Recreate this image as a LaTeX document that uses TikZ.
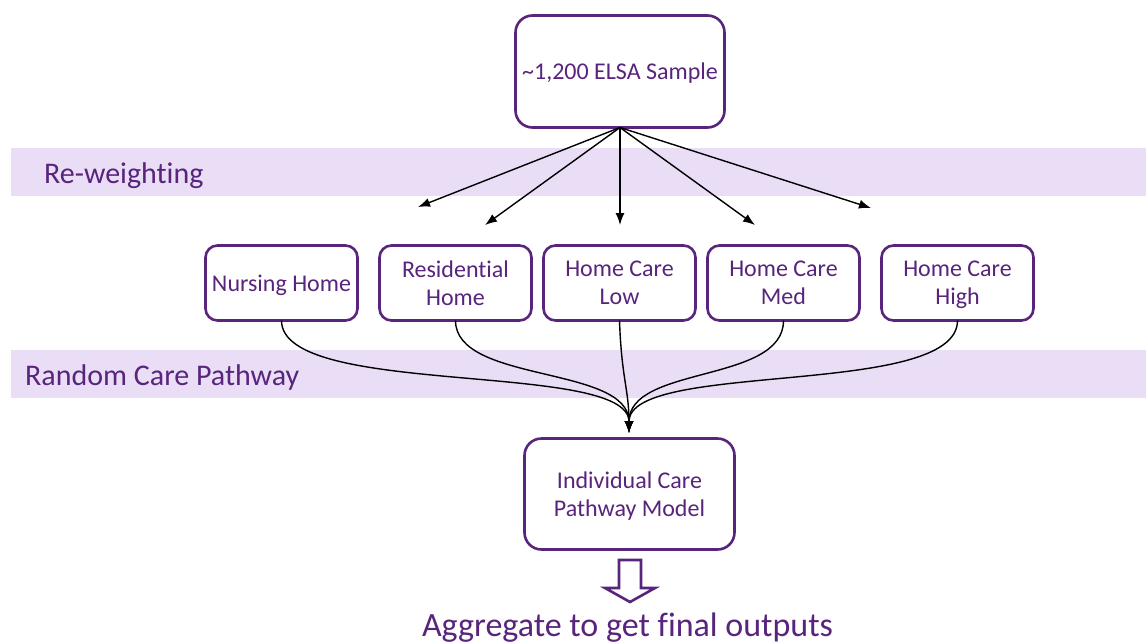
\documentclass[tikz,border=0pt]{standalone}
\usepackage{fontspec}
\setmainfont{Carlito}[Ligatures={NoCommon,NoRare}]
\usetikzlibrary{arrows.meta, positioning}

\definecolor{elsapurple}{RGB}{88,36,124}
\definecolor{bandfill}{RGB}{234,222,246}

\tikzset{
  box/.style={draw=elsapurple, line width=2.6pt, rounded corners=12pt, fill=white,
    text=elsapurple, align=center, minimum width=152pt, minimum height=75pt,
    inner sep=2pt, outer sep=0pt, text depth=0pt, font=\fontsize{24}{28}\selectfont},
  bigbox/.style={box, rounded corners=17pt, minimum width=209pt, minimum height=112pt},
  band/.style={fill=bandfill, draw=none},
  bandlabel/.style={text=elsapurple, anchor=base west, inner sep=0pt,
    font=\fontsize{30}{36}\selectfont},
  flow/.style={line width=1.4pt, -{Latex[length=12pt,width=9pt]}},
  hollow/.style={draw=elsapurple, line width=2.6pt, fill=white, line join=miter},
}

\begin{document}
\begin{tikzpicture}[x=1pt, y=-1pt]
	\useasboundingbox (0,0) rectangle (1146,643);

	% bands
	\fill[band] (11,148) rectangle (1146,196);
	\fill[band] (11,350) rectangle (1146,398);
	\node[bandlabel] (rw) at (44,183) {Re-weighting};
	\node[bandlabel] (rcp) at (25,385) {Random Care Pathway};

	\node[bigbox] (elsa) at (620,71.5) {\textasciitilde1,200 ELSA Sample};

	\node[box] (nh) at (281.5,283) {Nursing Home};
	\node[box, right=22pt of nh] (rh) {Residential\\Home};
	\node[box, right=12pt of rh] (lo) {Home Care\\Low};
	\node[box, right=12pt of lo] (med) {Home Care\\Med};
	\node[box, right=22pt of med] (high) {Home Care\\High};

	\node[bigbox, minimum width=210pt, minimum height=111pt] (model) at (629.5,494) {Individual Care\\Pathway Model};

	\node[text=elsapurple, anchor=base, inner sep=0pt, font=\fontsize{34}{40}\selectfont] (agg) at (627.5,636) {Aggregate to get final outputs};

	% re-weighting arrows
	\coordinate (w1) at (418,207);
	\coordinate (w2) at (485,225);
	\coordinate (w3) at (620,225);
	\coordinate (w4) at (755,225);
	\coordinate (w5) at (871,208);
	\foreach \t in {w1,w2,w3,w4,w5}
		\draw[flow] (elsa.south) -- (\t);

	% random care pathway
	\coordinate (merge) at (629,433);
	\draw[flow] (nh.south) .. controls +(0,78) and +(0,-73) .. (merge);
	\draw[flow] (rh.south) .. controls +(0,63) and +(0,-68) .. (merge);
	\draw[flow] (lo.south) .. controls +(2,58) and +(0,-43) .. (merge);
	\draw[flow] (med.south) .. controls +(0,63) and +(0,-68) .. (merge);
	\draw[flow] (high.south) .. controls +(0,78) and +(0,-73) .. (merge);

	% aggregate arrow
	\draw[hollow] (619,560) -- ++(22,0) -- ++(0,28) -- ++(14,0) -- ++(-25,14)
		-- ++(-25,-14) -- ++(14,0) -- cycle;
\end{tikzpicture}
\end{document}
